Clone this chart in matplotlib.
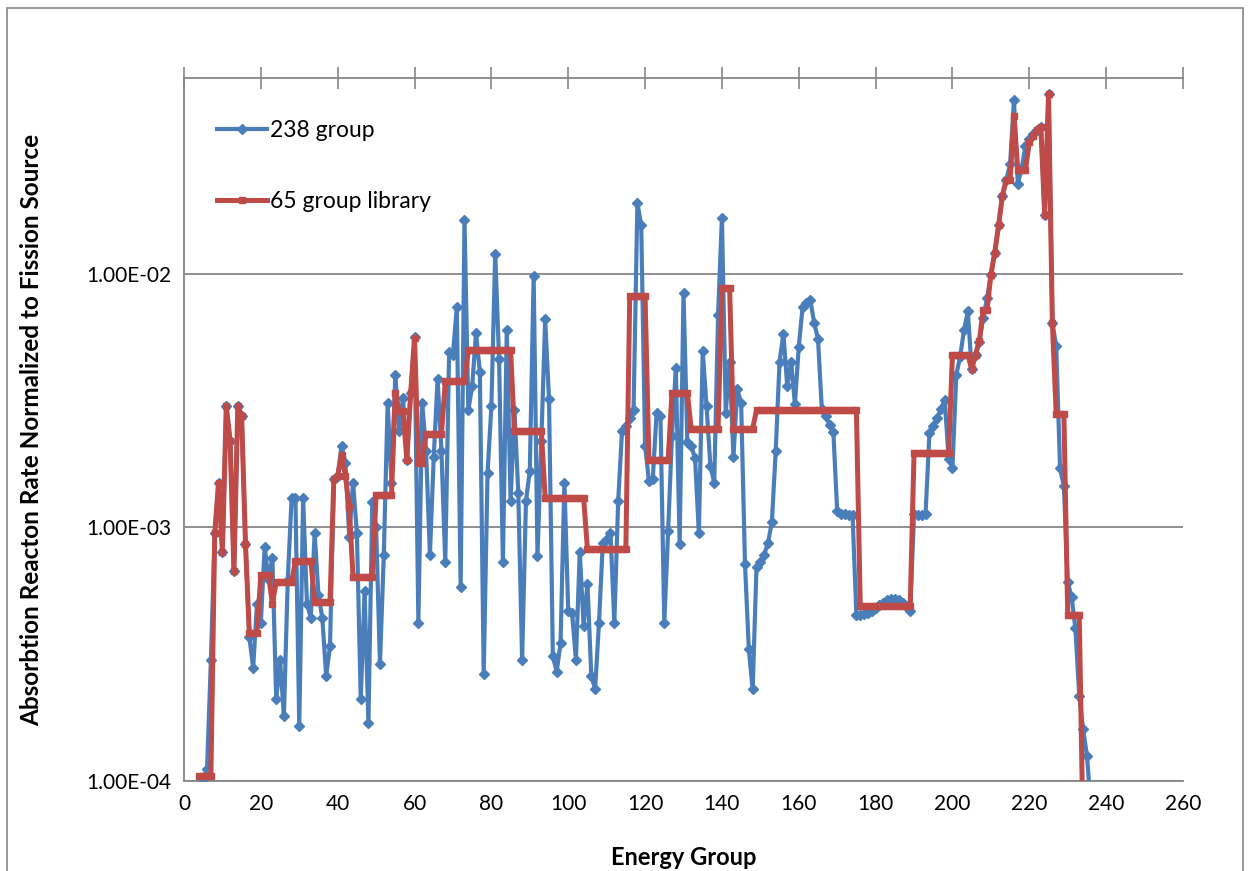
import numpy as np
import matplotlib
matplotlib.use("Agg")
import matplotlib.pyplot as plt
from matplotlib.ticker import FixedLocator, FuncFormatter, NullLocator
from matplotlib.patches import Rectangle

# 238 group absorption rate, groups 5..236
blue_start = 5
blue_values = [
    1.02e-4, 1.12e-4, 3.0e-4, 9.5e-4, 1.5e-3, 8.0e-4, 3.0e-3, 2.2e-3, 6.7e-4, 3.0e-3,
    2.75e-3, 8.6e-4, 3.7e-4, 2.8e-4, 5.0e-4, 4.2e-4, 8.4e-4, 6.2e-4, 7.6e-4, 2.1e-4,
    3.0e-4, 1.8e-4, 6.2e-4, 1.3e-3, 1.3e-3, 1.65e-4, 1.3e-3, 5.0e-4, 4.4e-4, 9.5e-4,
    5.4e-4, 4.4e-4, 2.6e-4, 3.4e-4, 1.55e-3, 1.6e-3, 2.1e-3, 1.8e-3, 9.2e-4, 1.5e-3,
    9.5e-4, 2.1e-4, 5.6e-4, 1.7e-4, 1.26e-3, 1.0e-3, 2.9e-4, 7.8e-4, 3.1e-3, 1.5e-3,
    4.0e-3, 2.4e-3, 3.25e-3, 1.85e-3, 3.4e-3, 5.65e-3, 4.2e-4, 3.1e-3, 2.0e-3, 7.8e-4,
    1.9e-3, 3.85e-3, 2.0e-3, 7.3e-4, 4.9e-3, 4.8e-3, 7.4e-3, 5.8e-4, 1.63e-2, 2.9e-3,
    3.6e-3, 5.85e-3, 4.1e-3, 2.64e-4, 1.64e-3, 3.0e-3, 1.2e-2, 4.6e-3, 7.3e-4, 6.0e-3,
    1.27e-3, 2.9e-3, 1.37e-3, 3.0e-4, 1.27e-3, 1.67e-3, 9.8e-3, 7.7e-4, 2.2e-3, 6.6e-3,
    3.2e-3, 3.1e-4, 2.7e-4, 3.5e-4, 1.5e-3, 4.7e-4, 4.6e-4, 3.0e-4, 8.0e-4, 4.1e-4,
    6.0e-4, 2.6e-4, 2.3e-4, 4.2e-4, 8.7e-4, 9.0e-4, 9.5e-4, 4.2e-4, 1.27e-3, 2.4e-3,
    2.5e-3, 2.7e-3, 2.9e-3, 1.9e-2, 1.55e-2, 2.1e-3, 1.52e-3, 1.55e-3, 2.83e-3, 2.75e-3,
    4.2e-4, 9.7e-4, 2.3e-3, 4.25e-3, 8.6e-4, 8.4e-3, 2.18e-3, 2.09e-3, 1.88e-3, 9.5e-4,
    4.94e-3, 3.0e-3, 1.74e-3, 1.5e-3, 6.9e-3, 1.66e-2, 2.83e-3, 4.5e-3, 1.9e-3, 3.5e-3,
    3.1e-3, 7.2e-4, 3.3e-4, 2.3e-4, 7.0e-4, 7.3e-4, 7.8e-4, 8.7e-4, 1.05e-3, 2.0e-3,
    4.5e-3, 5.8e-3, 3.6e-3, 4.5e-3, 3.06e-3, 5.16e-3, 7.4e-3, 7.7e-3, 7.9e-3, 6.4e-3,
    5.55e-3, 2.92e-3, 2.75e-3, 2.53e-3, 2.38e-3, 1.16e-3, 1.13e-3, 1.13e-3, 1.12e-3, 1.12e-3,
    4.5e-4, 4.5e-4, 4.55e-4, 4.6e-4, 4.7e-4, 4.8e-4, 4.95e-4, 5.05e-4, 5.15e-4, 5.2e-4,
    5.2e-4, 5.15e-4, 5.05e-4, 4.9e-4, 4.7e-4, 1.13e-3, 1.12e-3, 1.12e-3, 1.13e-3, 2.35e-3,
    2.5e-3, 2.7e-3, 2.92e-3, 3.18e-3, 1.86e-3, 1.72e-3, 4.0e-3, 4.7e-3, 6.0e-3, 7.1e-3,
    4.2e-3, 4.8e-3, 5.4e-3, 6.7e-3, 8.0e-3, 9.9e-3, 1.21e-2, 1.55e-2, 2.03e-2, 2.35e-2,
    2.7e-2, 4.84e-2, 2.26e-2, 2.6e-2, 3.2e-2, 3.4e-2, 3.56e-2, 3.7e-2, 3.8e-2, 1.71e-2,
    5.1e-2, 6.4e-3, 5.2e-3, 1.71e-3, 1.45e-3, 6.1e-4, 5.3e-4, 4.0e-4, 2.16e-4, 1.6e-4,
    1.26e-4, 8.0e-5,
]

# 65 group library collapsed onto the 238 groups: level and number of groups it covers
red_start = 4
red_levels = [
    1.05e-4, 9.5e-4, 1.5e-3, 8.0e-4, 3.0e-3, 2.2e-3, 6.7e-4, 3.0e-3, 2.75e-3, 8.6e-4,
    3.85e-4, 6.5e-4, 5.0e-4, 6.1e-4, 7.4e-4, 5.1e-4, 1.55e-3, 1.6e-3, 1.93e-3, 1.6e-3,
    1.2e-3, 6.35e-4, 1.34e-3, 3.4e-3, 2.87e-3, 1.85e-3, 3.4e-3, 5.6e-3, 1.8e-3, 2.33e-3,
    3.76e-3, 5.0e-3, 2.39e-3, 1.31e-3, 8.2e-4, 8.15e-3, 1.85e-3, 3.39e-3, 2.45e-3, 8.78e-3,
    2.45e-3, 2.9e-3, 4.9e-4, 1.96e-3, 4.8e-3, 4.2e-3, 4.8e-3, 5.45e-3, 7.2e-3, 9.9e-3,
    1.21e-2, 1.55e-2, 2.03e-2, 2.35e-2, 4.2e-2, 2.56e-2, 3.3e-2, 3.5e-2, 3.7e-2, 3.8e-2,
    1.71e-2, 5.1e-2, 6.4e-3, 2.8e-3, 4.5e-4, 6.0e-5,
]
red_counts = [
    4, 1, 1, 1, 1, 1, 1, 1, 1, 1,
    3, 3, 1, 5, 5, 5, 1, 1, 1, 1,
    1, 6, 5, 1, 2, 1, 1, 1, 2, 5,
    6, 12, 8, 11, 11, 5, 6, 5, 8, 3,
    6, 27, 14, 10, 5, 1, 1, 1, 2, 1,
    1, 1, 1, 2, 1, 3, 1, 1, 1, 1,
    1, 1, 1, 3, 4, 1,
]

x_ticks = list(range(0, 261, 20))
y_ticks = [1e-4, 1e-3, 1e-2]

blue_x = np.arange(blue_start, blue_start + len(blue_values))
red_values = np.repeat(red_levels, red_counts)
red_x = np.arange(red_start, red_start + len(red_values))

plt.rcParams['font.family'] = ['Lato', 'DejaVu Sans']
grey = '#868686'

fig = plt.figure(figsize=(12.5, 8.71), dpi=100)
fig.patches.append(Rectangle((7 / 1250, -0.05), 1236 / 1250, 1.05 - 8 / 871,
                             transform=fig.transFigure, fill=False,
                             edgecolor=grey, linewidth=1.2))

ax = fig.add_axes([184 / 1250, 1 - 781 / 871, 999 / 1250, 703 / 871])
ax.plot(blue_x, blue_values, color='#4A7EBB', lw=3.0, marker='D', ms=5.5,
        label='238 group', zorder=3)
ax.plot(red_x, red_values, color='#BE4B48', lw=3.6, marker='s', ms=4.2,
        label='65 group library', zorder=4)

ax.set_yscale('log')
ax.set_xlim(0, 260)
ax.set_ylim(1e-4, 10 ** (-2 + 196 / 254))
ax.yaxis.set_major_locator(FixedLocator(y_ticks))
ax.yaxis.set_minor_locator(NullLocator())
ax.yaxis.set_major_formatter(FuncFormatter(lambda v, p: f"{v:.2E}"))
ax.set_xticks(x_ticks)
ax.grid(axis='y', color=grey, lw=1.3)
ax.set_axisbelow(True)

ax.tick_params(axis='x', top=True, bottom=False, labeltop=False, labelbottom=True,
               direction='inout', length=16, width=1.2, color=grey,
               labelsize=15, pad=1)
ax.tick_params(axis='y', left=False, length=0, labelsize=15, pad=9)
for side in ['top', 'left', 'bottom']:
    ax.spines[side].set_color(grey)
    ax.spines[side].set_linewidth(1.3)
ax.spines['right'].set_visible(False)

ax.set_xlabel('Energy Group', fontsize=17, fontweight='bold')
ax.set_ylabel('Absorbtion Reacton Rate Normalized to Fission Source',
              fontsize=17.5, fontweight='bold')
ax.xaxis.set_label_coords(0.5, -0.092)
ax.yaxis.set_label_coords(-0.141, 0.5)

ax.legend(loc='upper left', bbox_to_anchor=(0.012, 0.97), frameon=False,
          fontsize=16.5, handlelength=2.2, handletextpad=0.15, labelspacing=2.2)

fig.savefig('out.png', dpi=100)
